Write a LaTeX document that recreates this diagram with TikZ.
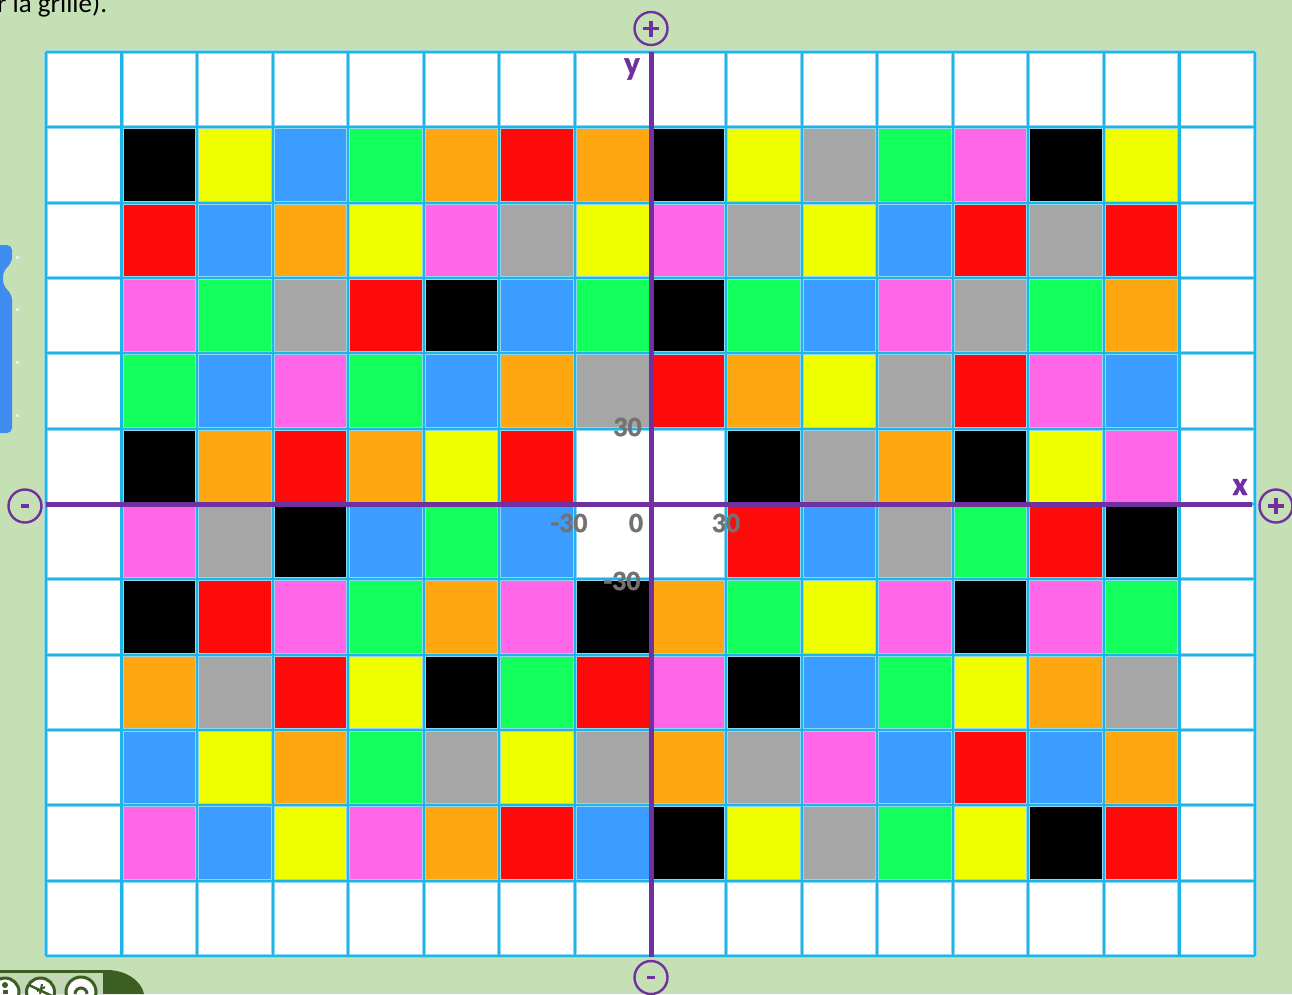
\documentclass[tikz,border=0pt]{standalone}
\usepackage{fontspec}
\setmainfont{Carlito}
\newfontfamily\labfont{Carlito Bold}[FakeBold=1.2]
\definecolor{bg}{HTML}{C5E0B4}
\definecolor{cK}{HTML}{000000}
\definecolor{cY}{HTML}{F0FF00}
\definecolor{cB}{HTML}{3B9DFF}
\definecolor{cG}{HTML}{12FF5C}
\definecolor{cO}{HTML}{FFA711}
\definecolor{cR}{HTML}{FF0A0A}
\definecolor{cA}{HTML}{A6A6A6}
\definecolor{cP}{HTML}{FF66E8}
\definecolor{cW}{HTML}{FFFFFF}
\definecolor{gridc}{HTML}{1DB5E8}
\definecolor{gridhalo}{HTML}{8FD6F2}
\definecolor{axisc}{HTML}{7030A0}
\definecolor{labc}{HTML}{757171}
\definecolor{ccdark}{HTML}{3B5E22}
\definecolor{cclight}{HTML}{C2D8B4}
\definecolor{panelblue}{HTML}{3F8CF0}
\begin{document}
\begin{tikzpicture}[x=1pt,y=-1pt,
  gridhalo/.style={draw=gridhalo,line width=4pt},
  gridline/.style={draw=gridc,line width=2.2pt},
  axisline/.style={draw=axisc,line width=5pt},
  signcircle/.style={circle,draw=axisc,line width=2.4pt,minimum size=33pt,inner sep=0pt},
  signmark/.style={draw=axisc,line width=3.4pt},
  numlab/.style={inner sep=0pt,text=labc,font=\labfont\fontsize{28}{30}\selectfont},
  axislab/.style={inner sep=0pt,text=axisc,font=\labfont\fontsize{33}{36}\selectfont},
  ccicon/.style={draw=ccdark,line width=3pt,fill=white}]
\useasboundingbox (0,0) rectangle (1292,994);
\fill[bg] (0,0) rectangle (1292,994);
% caption fragment
\node[anchor=base west,inner sep=0pt,font=\fontsize{27}{30}\selectfont] (caption) at (-3,12) {r la grille).};
% left blue panel
\fill[panelblue,rounded corners=5pt] (-8,245) -- (12,245) -- (12,262) -- (3,272) -- (3,285) -- (12,295) -- (12,433) -- (-8,433) -- cycle;
\foreach \yy in {257,309,362,415} \fill[white!85!gray] (15.5,\yy-1.5) rectangle ++(3,3);
% grid
\fill[white] (46,52) rectangle (1255,956);
\foreach \rowlist [count=\r] in {
 {K,Y,B,G,O,R,O,K,Y,A,G,P,K,Y},
 {R,B,O,Y,P,A,Y,P,A,Y,B,R,A,R},
 {P,G,A,R,K,B,G,K,G,B,P,A,G,O},
 {G,B,P,G,B,O,A,R,O,Y,A,R,P,B},
 {K,O,R,O,Y,R,W,W,K,A,O,K,Y,P},
 {P,A,K,B,G,B,W,W,R,B,A,G,R,K},
 {K,R,P,G,O,P,K,O,G,Y,P,K,P,G},
 {O,A,R,Y,K,G,R,P,K,B,G,Y,O,A},
 {B,Y,O,G,A,Y,A,O,A,P,B,R,B,O},
 {P,B,Y,P,O,R,B,K,Y,A,G,Y,K,R}}{
  \foreach \c [count=\i] in \rowlist {
    \fill[fill=c\c] ({46+\i*75.5625},{52+\r*75.3333}) rectangle ++(75.5625,75.3333);
  }
}
\foreach \k in {0,...,16} \draw[gridhalo] ({46+\k*75.5625},52) -- ({46+\k*75.5625},956);
\foreach \k in {0,...,12} \draw[gridhalo] (46,{52+\k*75.3333}) -- (1255,{52+\k*75.3333});
\foreach \k in {0,...,16} \draw[gridline] ({46+\k*75.5625},52) -- ({46+\k*75.5625},956);
\foreach \k in {0,...,12} \draw[gridline] (46,{52+\k*75.3333}) -- (1255,{52+\k*75.3333});
% axes
\coordinate (ytop) at (651,52);
\coordinate (ybot) at (651,957);
\coordinate (xleft) at (46,504);
\coordinate (xright) at (1252,504);
\draw[axisline] (ytop) -- (ybot);
\draw[axisline] (xleft) -- (xright);
% sign circles
\node[signcircle] (yplus) at (651,28.5) {};
\node[signcircle] (yminus) at (651,977.5) {};
\node[signcircle] (xminus) at (25,506) {};
\node[signcircle] (xplus) at (1276,506) {};
\draw[signmark] ([xshift=-8pt]yplus.center) -- ([xshift=8pt]yplus.center);
\draw[signmark] ([yshift=-8pt]yplus.center) -- ([yshift=8pt]yplus.center);
\draw[signmark] ([xshift=-8pt]xplus.center) -- ([xshift=8pt]xplus.center);
\draw[signmark] ([yshift=-8pt]xplus.center) -- ([yshift=8pt]xplus.center);
\draw[signmark] ([xshift=-4pt]xminus.center) -- ([xshift=4pt]xminus.center);
\draw[signmark] ([xshift=-4pt]yminus.center) -- ([xshift=4pt]yminus.center);
% axis labels
\node[axislab] (ylab) at (632,69) {y};
\node[axislab] (xlab) at (1240,487) {x};
\node[numlab] (ny30) at (627.5,427) {30};
\node[numlab] (nxm30) at (569,523) {-30};
\node[numlab] (n0) at (636,523) {0};
\node[numlab] (nx30) at (726,523) {30};
\node[numlab] (nym30) at (622,581) {-30};
% licence badge
\fill[ccdark] (0,970) -- (107,970) .. controls (127,970) and (142,982) .. (144,994) -- (0,994) -- cycle;
\fill[cclight] (0,973) rectangle (103,994);
\draw[ccicon] (5,992) circle[radius=14];
\draw[ccicon] (40.5,992) circle[radius=14];
\draw[ccicon] (81,992) circle[radius=15];
\fill[ccdark] (5,985) circle[radius=3];
\fill[ccdark] (2.5,990) rectangle (7.5,994);
\draw[ccdark,line width=2.5pt] (29,985) -- (52,996);
\draw[ccdark,line width=2pt] (37,991) -- (45,987) (42,984) -- (40,994);
\draw[ccdark,line width=3pt] (75,994) arc[start angle=180,end angle=360,radius=6];
\end{tikzpicture}
\end{document}
